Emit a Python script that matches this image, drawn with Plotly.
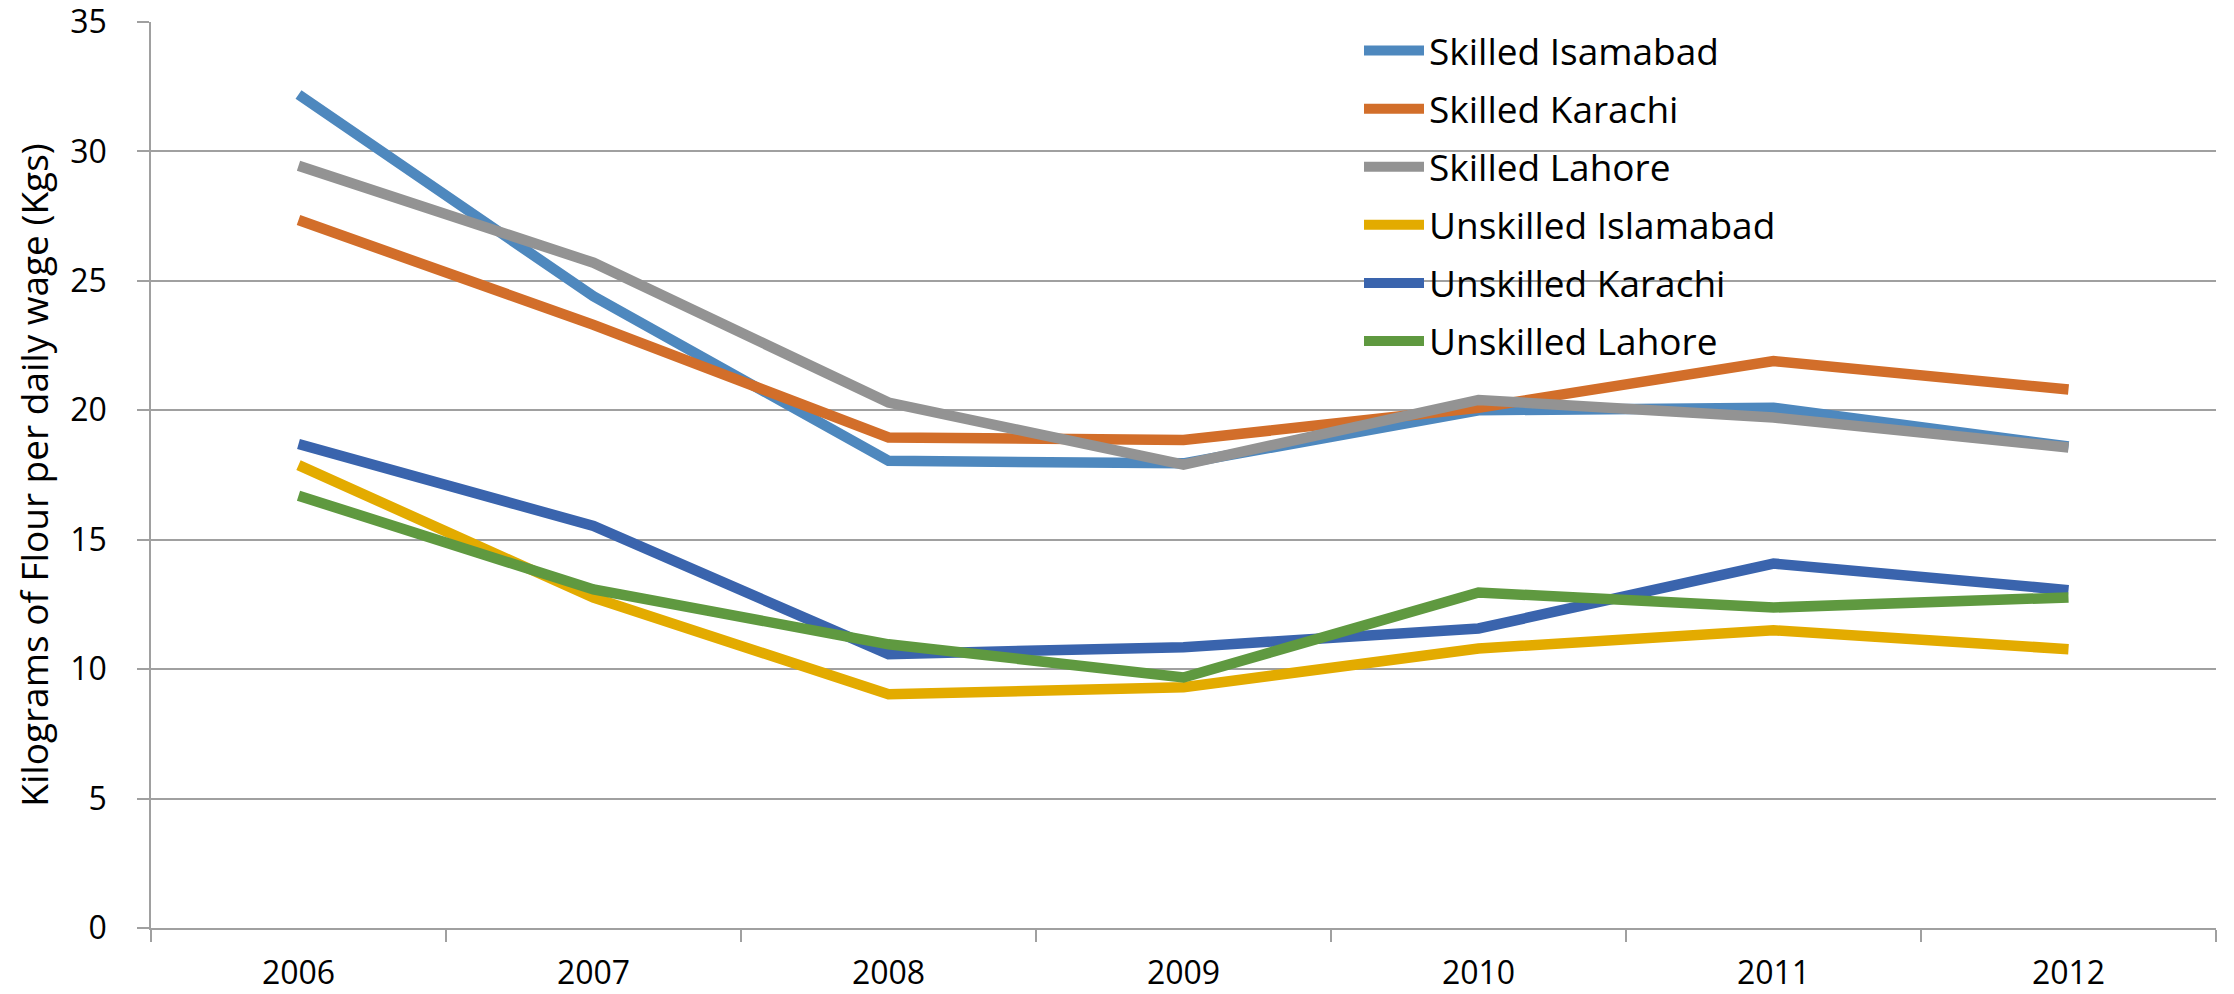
import plotly.graph_objects as go

years = ["2006", "2007", "2008", "2009", "2010", "2011", "2012"]

skilled_islamabad = [32.2, 24.4, 18.05, 17.95, 20.0, 20.1, 18.6]
skilled_karachi = [27.35, 23.3, 18.95, 18.85, 20.1, 21.9, 20.8]
skilled_lahore = [29.45, 25.7, 20.3, 17.9, 20.4, 19.72, 18.56]
unskilled_islamabad = [17.88, 12.76, 9.03, 9.3, 10.8, 11.5, 10.77]
unskilled_karachi = [18.7, 15.53, 10.58, 10.85, 11.57, 14.08, 13.05]
unskilled_lahore = [16.7, 13.08, 10.96, 9.68, 12.96, 12.38, 12.77]

series_names = ["Skilled Isamabad", "Skilled Karachi", "Skilled Lahore",
                "Unskilled Islamabad", "Unskilled Karachi", "Unskilled Lahore"]
series_values = [skilled_islamabad, skilled_karachi, skilled_lahore,
                 unskilled_islamabad, unskilled_karachi, unskilled_lahore]
colors = ["#4E88BE", "#D26E2A", "#939393", "#E3AB00", "#3A64AD", "#5F9940"]

y_ticks = [0, 5, 10, 15, 20, 25, 30, 35]

fig = go.Figure()
for i, (name, vals, col) in enumerate(zip(series_names, series_values, colors)):
    fig.add_trace(go.Scatter(x=years, y=vals, name=name, mode="lines",
                             legendgroup="g%d" % i,
                             line=dict(color=col, width=10.5)))

W, H = 2234, 994
left, right, top, bottom = 151, 18, 22, 66
plot_h = H - top - bottom

fig.update_layout(
    width=W, height=H,
    margin=dict(l=left, r=right, t=top, b=bottom, autoexpand=False),
    paper_bgcolor="white", plot_bgcolor="white",
    font=dict(family="Open Sans", color="black"),
    showlegend=True,
    legend=dict(x=(1359 - left) / (W - left - right), y=1.0 + 2 / plot_h,
                xanchor="left", yanchor="top",
                font=dict(size=37, color="black", family="Open Sans"),
                bgcolor="rgba(0,0,0,0)", itemwidth=60, tracegroupgap=7,
                traceorder="grouped"),
    xaxis=dict(type="category", range=[-0.5, 6.5],
               showgrid=False, showline=True, linecolor="#A0A0A0", linewidth=2,
               ticks="outside", tickson="boundaries", ticklen=12, tickcolor="#A0A0A0",
               tickwidth=1.5,
               tickfont=dict(size=32, family="Open Sans", color="black"),
               ticklabelstandoff=16, ticklabeloverflow="allow", fixedrange=True),
    yaxis=dict(range=[0, 35], tickvals=y_ticks, showgrid=True, gridcolor="#A0A0A0",
               gridwidth=1.5, showline=True, linecolor="#A0A0A0", linewidth=1.5,
               ticks="outside", ticklen=12, tickcolor="#A0A0A0", tickwidth=1.5,
               zeroline=False,
               tickfont=dict(size=32, family="Open Sans", color="black"),
               ticklabelstandoff=24, ticklabeloverflow="allow",
               title=dict(text="Kilograms of Flour per daily wage (Kgs)",
                          font=dict(size=37, family="Open Sans", color="black"),
                          standoff=10),
               automargin=False, fixedrange=True),
)

fig.write_html("out.html", config={"displayModeBar": False},
               post_script="document.body.style.margin='0px';")
